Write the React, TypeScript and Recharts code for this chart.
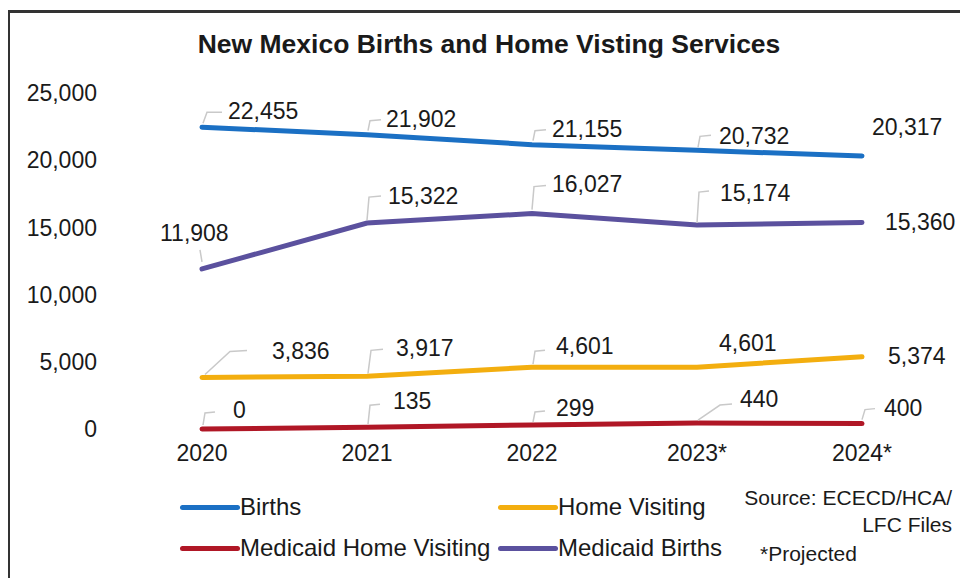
import React from 'react';
import { LineChart, Line, XAxis, YAxis } from 'recharts';

const years = ['2020', '2021', '2022', '2023*', '2024*'];
const births = [22455, 21902, 21155, 20732, 20317];
const medicaidBirths = [11908, 15322, 16027, 15174, 15360];
const homeVisiting = [3836, 3917, 4601, 4601, 5374];
const medicaidHomeVisiting = [0, 135, 299, 440, 400];
const yTicks = [0, 5000, 10000, 15000, 20000, 25000];

const seriesDefs = [
  { key: 'births', name: 'Births', color: '#1B70C4' },
  { key: 'homeVisiting', name: 'Home Visiting', color: '#F3AE0F' },
  { key: 'medicaidHomeVisiting', name: 'Medicaid Home Visiting', color: '#B01726' },
  { key: 'medicaidBirths', name: 'Medicaid Births', color: '#5B519E' },
];

const data = years.map((y, i) => ({
  year: y,
  births: births[i],
  medicaidBirths: medicaidBirths[i],
  homeVisiting: homeVisiting[i],
  medicaidHomeVisiting: medicaidHomeVisiting[i],
}));

type Lbl = { dx: number; dy: number; leader?: [number, number][] };
const labelLayout: Record<string, Lbl[]> = {
  births: [
    { dx: 26, dy: -16, leader: [[1, -4], [5, -15], [20, -15]] },
    { dx: 19, dy: -16, leader: [[1, -4], [3, -14], [14, -15]] },
    { dx: 20, dy: -16, leader: [[1, -4], [3, -14], [14, -15]] },
    { dx: 22, dy: -14, leader: [[1, -3], [3, -14], [14, -15]] },
    { dx: 10, dy: -29 },
  ],
  medicaidBirths: [
    { dx: -42, dy: -36, leader: [[0, -7], [-2, -19]] },
    { dx: 21, dy: -27, leader: [[0, -3], [2, -26], [14, -27]] },
    { dx: 20, dy: -30, leader: [[0, -4], [2, -27], [14, -28]] },
    { dx: 23, dy: -32, leader: [[0, -2], [2, -33], [12, -34]] },
    { dx: 23, dy: -1 },
  ],
  homeVisiting: [
    { dx: 70, dy: -26, leader: [[3, -3], [28, -26], [45, -27]] },
    { dx: 29, dy: -28, leader: [[1, -3], [4, -26], [16, -27]] },
    { dx: 24, dy: -21, leader: [[1, -3], [3, -16], [13, -17]] },
    { dx: 22, dy: -24 },
    { dx: 26, dy: -1 },
  ],
  medicaidHomeVisiting: [
    { dx: 31, dy: -19, leader: [[1, -4], [3, -16], [13, -17]] },
    { dx: 26, dy: -26, leader: [[1, -3], [3, -22], [13, -23]] },
    { dx: 24, dy: -17, leader: [[1, -3], [3, -13], [13, -14]] },
    { dx: 43, dy: -24, leader: [[1, -3], [23, -18], [35, -19]] },
    { dx: 22, dy: -16, leader: [[0, -4], [3, -14], [13, -15]] },
  ],
};

const FONT = '"Liberation Sans", Arial, Helvetica, sans-serif';
const fmt = (v: number) => v.toLocaleString('en-US');

const makeLabel = (key: string) => (p: any) => {
  const { x, y, value, index } = p;
  if (x == null || y == null) return null;
  const cfg = labelLayout[key][index] || { dx: 10, dy: -15 };
  const pts = cfg.leader ? cfg.leader.map(([a, b]) => `${x + a},${y + b}`).join(' ') : null;
  return (
    <g key={`${key}-${index}`}>
      {pts && <polyline points={pts} fill="none" stroke="#c9c9c9" strokeWidth={1.5} />}
      <text
        x={x + cfg.dx}
        y={y + cfg.dy}
        textAnchor="start"
        dominantBaseline="central"
        fontFamily={FONT}
        fontSize={23}
        fill="#1a1a1a"
      >
        {fmt(Number(value))}
      </text>
    </g>
  );
};

const legendRows = [
  [seriesDefs[0], seriesDefs[1]],
  [seriesDefs[2], seriesDefs[3]],
];

export default function App() {
  return (
    <div style={{ position: 'fixed', left: 0, top: 0, width: 960, height: 578, background: '#fff', overflow: 'hidden', fontFamily: FONT }}>
      <div style={{ position: 'absolute', left: 8, top: 10, width: 980, height: 600, borderLeft: '2px solid #333', borderTop: '3px solid #333' }} />
      <div style={{ position: 'absolute', left: 0, width: 978, top: 29, textAlign: 'center', fontWeight: 700, fontSize: 26.5, color: '#1a1a1a', whiteSpace: 'nowrap' }}>
        New Mexico Births and Home Visting Services
      </div>
      <div style={{ position: 'absolute', left: 0, top: 0 }}>
        <LineChart width={960} height={578} data={data} margin={{ top: 93, right: 98, bottom: 0, left: 0 }}>
          <XAxis
            dataKey="year"
            axisLine={false}
            tickLine={false}
            tickSize={0}
            tickMargin={16}
            height={149}
            padding={{ left: 102, right: 0 }}
            interval={0}
            tick={{ fontSize: 23, fill: '#1a1a1a', fontFamily: FONT }}
          />
          <YAxis
            domain={[0, 25000]}
            ticks={yTicks}
            tickFormatter={fmt}
            axisLine={false}
            tickLine={false}
            tickSize={0}
            tickMargin={3}
            width={100}
            interval={0}
            tick={{ fontSize: 23, fill: '#1a1a1a', fontFamily: FONT }}
          />
          {seriesDefs.map((s) => (
            <Line
              key={s.key}
              type="linear"
              dataKey={s.key}
              name={s.name}
              stroke={s.color}
              strokeWidth={5}
              strokeLinecap="round"
              dot={false}
              activeDot={false}
              isAnimationActive={false}
              label={makeLabel(s.key)}
            />
          ))}
        </LineChart>
      </div>
      {legendRows.map((row, r) => (
        <div key={r} style={{ position: 'absolute', left: 180, top: r === 0 ? 492 : 533, display: 'flex' }}>
          {row.map((s, c) => (
            <div key={s.key} style={{ display: 'flex', alignItems: 'center', width: c === 0 ? 318 : 260 }}>
              <div style={{ width: 60, height: 5, borderRadius: 3, background: s.color }} />
              <span style={{ fontSize: 24, color: '#1a1a1a', lineHeight: '30px', whiteSpace: 'nowrap' }}>{s.name}</span>
            </div>
          ))}
        </div>
      ))}
      <div style={{ position: 'absolute', right: 8, top: 484, textAlign: 'right', fontSize: 21, lineHeight: '27px', color: '#1a1a1a', whiteSpace: 'nowrap' }}>
        Source: ECECD/HCA/
        <br />
        LFC Files
      </div>
      <div style={{ position: 'absolute', left: 760, top: 542, fontSize: 21, color: '#1a1a1a', whiteSpace: 'nowrap' }}>*Projected</div>
    </div>
  );
}
